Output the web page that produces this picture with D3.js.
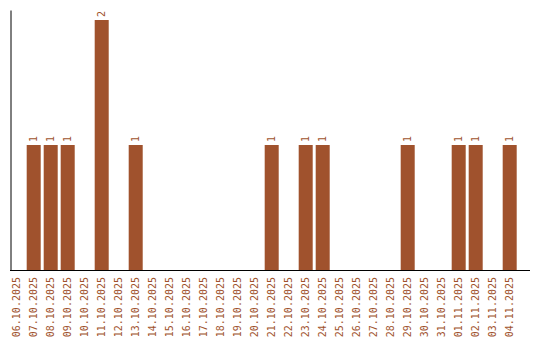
<!DOCTYPE html>
<html>
<head>
<meta charset="utf-8">
<script src="https://cdn.jsdelivr.net/npm/d3@7"></script>
<style>
  body { margin: 0; background: #fff; }
  svg { display: block; }
</style>
</head>
<body>
<svg id="chart" width="540" height="340"></svg>
<script>
const dates = ["06.10.2025","07.10.2025","08.10.2025","09.10.2025","10.10.2025","11.10.2025",
  "12.10.2025","13.10.2025","14.10.2025","15.10.2025","16.10.2025","17.10.2025","18.10.2025",
  "19.10.2025","20.10.2025","21.10.2025","22.10.2025","23.10.2025","24.10.2025","25.10.2025",
  "26.10.2025","27.10.2025","28.10.2025","29.10.2025","30.10.2025","31.10.2025","01.11.2025",
  "02.11.2025","03.11.2025","04.11.2025"];
const counts = [0,1,1,1,0,2,0,1,0,0,0,0,0,0,0,1,0,1,1,0,0,0,0,1,0,0,1,1,0,1];

const color = "#a0522d";
const svg = d3.select("#chart");
const font = "'DejaVu Sans Mono', monospace";

// x band scale
const x = d3.scaleBand()
  .domain(dates)
  .range([9.7, 516.7])
  .paddingInner(0.176)
  .paddingOuter(0);

const y = d3.scaleLinear()
  .domain([0, 2.08])
  .range([270, 10]);

const data = dates.map((d, i) => ({date: d, value: counts[i]}));

// bars
svg.selectAll("rect.bar")
  .data(data.filter(d => d.value > 0))
  .enter()
  .append("rect")
  .attr("class", "bar")
  .attr("x", d => x(d.date))
  .attr("y", d => y(d.value))
  .attr("width", x.bandwidth())
  .attr("height", d => y(0) - y(d.value))
  .attr("fill", color);

// value labels
svg.selectAll("text.val")
  .data(data.filter(d => d.value > 0))
  .enter()
  .append("text")
  .attr("class", "val")
  .attr("transform", d => `translate(${x(d.date) + x.bandwidth() / 2},${y(d.value) - 3}) rotate(-90)`)
  .attr("dy", "0.35em")
  .attr("font-family", font)
  .attr("font-size", 10)
  .attr("fill", color)
  .text(d => d.value);

// x axis line
svg.append("line")
  .attr("x1", 10).attr("x2", 530)
  .attr("y1", 270.5).attr("y2", 270.5)
  .attr("stroke", "#000");

// y axis line
svg.append("g")
  .attr("transform", "translate(10.5,0)")
  .call(d3.axisLeft(y).tickValues([]).tickSizeOuter(0))
  .select(".domain").attr("stroke", "#000");

// x tick labels
svg.selectAll("text.date")
  .data(dates)
  .enter()
  .append("text")
  .attr("class", "date")
  .attr("transform", d => `translate(${x(d) + x.bandwidth() / 2},277) rotate(-90)`)
  .attr("text-anchor", "end")
  .attr("dy", "0.35em")
  .attr("font-family", font)
  .attr("font-size", 10)
  .attr("fill", color)
  .text(d => d);
</script>
</body>
</html>
